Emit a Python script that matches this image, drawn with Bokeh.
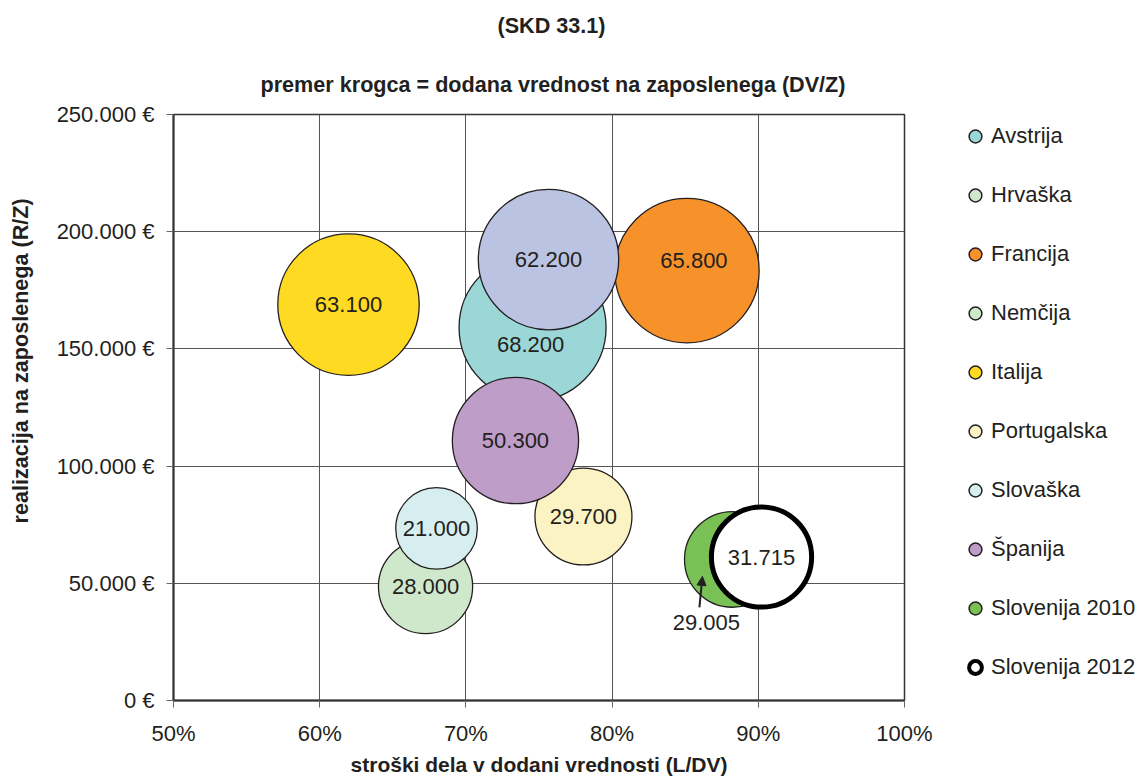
import math
from bokeh.plotting import figure
from bokeh.models import (ColumnDataSource, Legend, LegendItem, Title, Arrow,
                          NormalHead, FixedTicker, Range1d)
from bokeh.embed import file_html
from bokeh.resources import INLINE
from bokeh.core.properties import value

# ---------------- data ----------------
countries = ["Avstrija", "Hrvaška", "Francija", "Nemčija", "Italija",
             "Portugalska", "Slovaška", "Španija", "Slovenija 2010", "Slovenija 2012"]
labor_cost_share = [74.56, 67.24, 85.12, 75.65, 61.97, 78.04, 67.99, 73.39, 88.23, 90.22]   # % (L/DV)
revenue_per_employee = [159100, 48600, 183400, 188100, 168900, 78500, 73400, 110900, 60200, 61200]  # € (R/Z)
value_added_per_employee = [68200, 28000, 65800, 62200, 63100, 29700, 21000, 50300, 29005, 31715]  # € (DV/Z)

x_ticks = [50, 60, 70, 80, 90, 100]
x_tick_labels = ["50%", "60%", "70%", "80%", "90%", "100%"]
y_ticks = [0, 50000, 100000, 150000, 200000, 250000]
y_tick_labels = ["0 €", "50.000 €", "100.000 €", "150.000 €", "200.000 €", "250.000 €"]

title_text = "(SKD 33.1)"
subtitle_text = "premer krogca = dodana vrednost na zaposlenega (DV/Z)"
x_title = "stroški dela v dodani vrednosti (L/DV)"
y_title = "realizacija na zaposlenega (R/Z)"

# ---------------- styles ----------------
bubble_colors = ["#9AD7D6", "#CFE8CC", "#F7922A", "#BBC3E2", "#FFDA22",
                 "#FCF3C4", "#D6EEF0", "#BE9EC9", "#79C154", "#FFFFFF"]
legend_colors = ["#9AD7D6", "#CFE8CC", "#F7922A", "#CFE8CC", "#FFDA22",
                 "#FCF3C4", "#D6EEF0", "#BE9EC9", "#79C154", "#FFFFFF"]
outline_colors = ["#231F20"] * 9 + ["#000000"]
outline_widths = [1.3] * 9 + [5]
legend_widths = [1.5] * 9 + [4]
# label placement offsets in pixels (Slovenija 2010 is labelled outside with an arrow)
label_dx = [-2, 0, 7, 0, 0, 0, 0, 0, -26, 0]
label_dy = [17, 0, -10, 0, 0, 0, 0, 0, 63, 0]

FONT = "Liberation Sans"
TXT = "#231F20"
K = 8.9  # px radius per sqrt(thousand €)

FW, FH = 731, 586
XMIN, XMAX = 50, 100
YMIN, YMAX = 0, 250000

p = figure(frame_width=FW, frame_height=FH,
           x_range=Range1d(XMIN, XMAX), y_range=Range1d(YMIN, YMAX),
           output_backend="svg", toolbar_location=None,
           min_border_left=173, min_border_right=233,
           min_border_top=114, min_border_bottom=78)
p.background_fill_color = "white"
p.border_fill_color = "white"
p.outline_line_color = "#333333"
p.outline_line_width = 1.5

# axes
for ax in (p.xaxis[0], p.yaxis[0]):
    ax.axis_line_color = "#333333"
    ax.axis_line_width = 2
    ax.major_tick_out = 7
    ax.major_tick_in = 0
    ax.major_tick_line_color = "#666666"
    ax.minor_tick_line_color = None
    ax.major_label_text_font = FONT
    ax.major_label_text_font_size = "22px"
    ax.major_label_text_color = TXT
p.xaxis.ticker = FixedTicker(ticks=x_ticks)
p.yaxis.ticker = FixedTicker(ticks=y_ticks)
p.xaxis.major_label_overrides = {t: l for t, l in zip(x_ticks, x_tick_labels)}
p.yaxis.major_label_overrides = {t: l for t, l in zip(y_ticks, y_tick_labels)}
p.xaxis.major_label_standoff = 13
p.yaxis.major_label_standoff = 12
p.xaxis.axis_label = x_title
p.xaxis.axis_label_standoff = 4
p.xaxis.axis_label_text_font = FONT
p.xaxis.axis_label_text_font_size = "21px"
p.xaxis.axis_label_text_font_style = "bold"
p.xaxis.axis_label_text_color = TXT
p.xgrid.ticker = FixedTicker(ticks=x_ticks)
p.ygrid.ticker = FixedTicker(ticks=y_ticks)
p.grid.grid_line_color = "#555555"
p.grid.grid_line_width = 1

# bubbles
sizes = [2 * K * math.sqrt(v / 1000) for v in value_added_per_employee]
labels = [f"{v:,}".replace(",", ".") for v in value_added_per_employee]
src = ColumnDataSource(dict(x=labor_cost_share, y=revenue_per_employee, size=sizes,
                            fill=bubble_colors, line=outline_colors, lw=outline_widths,
                            label=labels, dx=label_dx, dy=label_dy, name=countries))
p.scatter(x="x", y="y", size="size", source=src, fill_color="fill", fill_alpha=1,
          line_color="line", line_width="lw")

# bubble value labels
p.text(x="x", y="y", text="label", source=src, x_offset="dx", y_offset="dy",
       text_align="center", text_baseline="middle",
       text_font=value(FONT), text_font_size="22px", text_color=TXT)

# arrow from the Slovenija 2010 label to its bubble
i10 = countries.index("Slovenija 2010")
pxx = FW / (XMAX - XMIN)
pxy = FH / (YMAX - YMIN)
x0, y0 = labor_cost_share[i10], revenue_per_employee[i10]
p.add_layout(Arrow(end=NormalHead(size=9, fill_color="#231F20", line_color="#231F20"),
                   x_start=x0 - 33 / pxx, y_start=y0 - 48 / pxy,
                   x_end=x0 - 30 / pxx, y_end=y0 - 17 / pxy,
                   line_color="#231F20", line_width=2))

# legend (separate proxy renderer so legend colours follow the original legend)
nan = float("nan")
lsrc = ColumnDataSource(dict(x=[nan] * len(countries), y=[nan] * len(countries),
                             fill=legend_colors, line=outline_colors, lw=legend_widths))
lr = p.scatter(x="x", y="y", source=lsrc, size=10, fill_color="fill",
               line_color="line", line_width="lw")
items = [LegendItem(label=c, renderers=[lr], index=i) for i, c in enumerate(countries)]
legend = Legend(items=items, location=(55, 17), orientation="vertical",
                glyph_width=32, glyph_height=32, label_height=32, label_standoff=0,
                spacing=27, padding=0, margin=0,
                label_text_font=FONT, label_text_font_size="22px", label_text_color=TXT,
                border_line_color=None, background_fill_alpha=0)
p.add_layout(legend, "right")

# titles
def title(text, **kw):
    return Title(text=text, text_font=FONT, text_font_size="21.6px", text_font_style="bold",
                 text_color=TXT, **kw)

p.add_layout(title(subtitle_text, align="left", offset=87, standoff=36), "above")
p.add_layout(title(title_text, align="left", offset=324, vertical_align="top", standoff=24), "above")

# y-axis title: spacer + rotated title in the left panel
p.add_layout(Title(text=" ", text_font_size="2px", standoff=16), "left")
p.add_layout(title(y_title, align="left", offset=177, vertical_align="middle", standoff=0), "left")

open("out.html", "w").write(file_html(p, INLINE))
